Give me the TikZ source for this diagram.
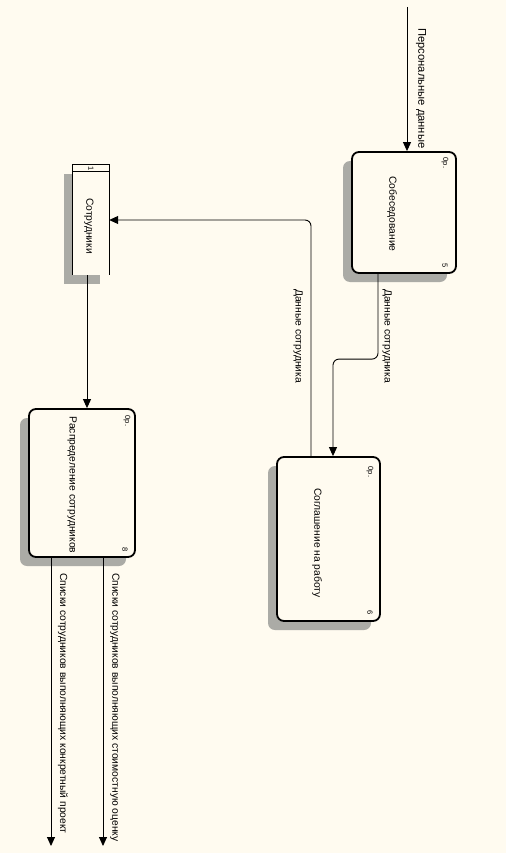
\documentclass[tikz,border=0pt]{standalone}
\usepackage{fontspec}
\setmainfont{Liberation Sans}
\usepackage{xcolor}
\definecolor{paper}{HTML}{FFFBF0}
\definecolor{shade}{HTML}{ABABA6}
\usepackage{tikz}
\usetikzlibrary{arrows.meta, positioning, calc, shadows}

\begin{document}
\begin{tikzpicture}[x=1pt, y=-1pt,
  font=\fontsize{10.3}{12}\selectfont,
  proc/.style={draw, line width=1.8pt, rounded corners=7pt, fill=paper, inner sep=0pt,
    drop shadow={shadow xshift=-9pt, shadow yshift=-9pt, fill=shade, opacity=1}},
  store/.style={fill=paper, inner sep=0pt,
    drop shadow={shadow xshift=-9pt, shadow yshift=-9pt, fill=shade, opacity=1}},
  txt/.style={rotate=-90, inner sep=0pt},
  tag/.style={rotate=-90, inner sep=0pt, font=\fontsize{7.5}{9}\selectfont},
  flow/.style={-{Triangle[length=9pt, width=8pt]}, line width=0.9pt, rounded corners=6pt}]
  \useasboundingbox[fill=paper] (0,0) rectangle (506,853);

  \node[proc, minimum width=104pt, minimum height=121pt] (sob)  at (404,212.5) {};
  \node[proc, minimum width=103pt, minimum height=164pt] (soz)  at (328.5,539) {};
  \node[proc, minimum width=106pt, minimum height=148pt] (rasp) at (82,483) {};
  \node[store, minimum width=36pt, minimum height=110pt] (emp)  at (91,220) {};
  \draw[line width=0.9pt] (emp.south west) |- (emp.north east) -- (emp.south east);
  \draw[line width=0.9pt] ($(emp.north west)+(0,7)$) -- ($(emp.north east)+(0,7)$);

  \node[txt] (sobt)  at (392,214) {Собеседование};
  \node[txt] (sozt)  at (317,543) {Соглашение на работу};
  \node[txt] (raspt) at (72,485)  {Распределение сотрудников};
  \node[txt] (empt)  at (89,226)  {Сотрудники};

  \node[tag] (sobn)  at (445,163) {0р.};
  \node[tag] (sobk)  at (445,266) {5};
  \node[tag] (sozn)  at (370,472) {0р.};
  \node[tag] (sozk)  at (370,613) {6};
  \node[tag] (raspn) at (127,421) {0р.};
  \node[tag] (raspk) at (125,550) {8};
  \node[tag] (empn)  at (91,169)  {1};

  \coordinate (pin)  at (407,7);
  \coordinate (out1) at (51,846);
  \coordinate (out2) at (103,846);

  \draw[flow] (pin) -- (pin |- sob.north);
  \draw[flow] ($(sob.south)+(-26,0)$) |- ($(soz.north)+(4.5,-97)$) -- ($(soz.north)+(4.5,0)$);
  \draw[flow] ($(soz.north)+(-17.5,0)$) |- (emp.east);
  \draw[flow] ($(emp.south)+(-4,0)$) -- ($(rasp.north)+(5,0)$);
  \draw[flow] ($(rasp.south)+(-31,0)$) -- (out1);
  \draw[flow] ($(rasp.south)+(21,0)$) -- (out2);

  \node[txt, anchor=west, font=\fontsize{11.2}{13}\selectfont] (pdat) at (421,28) {Персональные данные};
  \node[txt] (dat1) at (298,336) {Данные сотрудника};
  \node[txt] (dat2) at (387,336) {Данные сотрудника};
  \node[txt, anchor=west] (lst1) at (63,573)  {Списки сотрудников выполняющих конкретный проект};
  \node[txt, anchor=west] (lst2) at (115,573) {Списки сотрудников выполняющих стоимостную оценку};
\end{tikzpicture}
\end{document}
